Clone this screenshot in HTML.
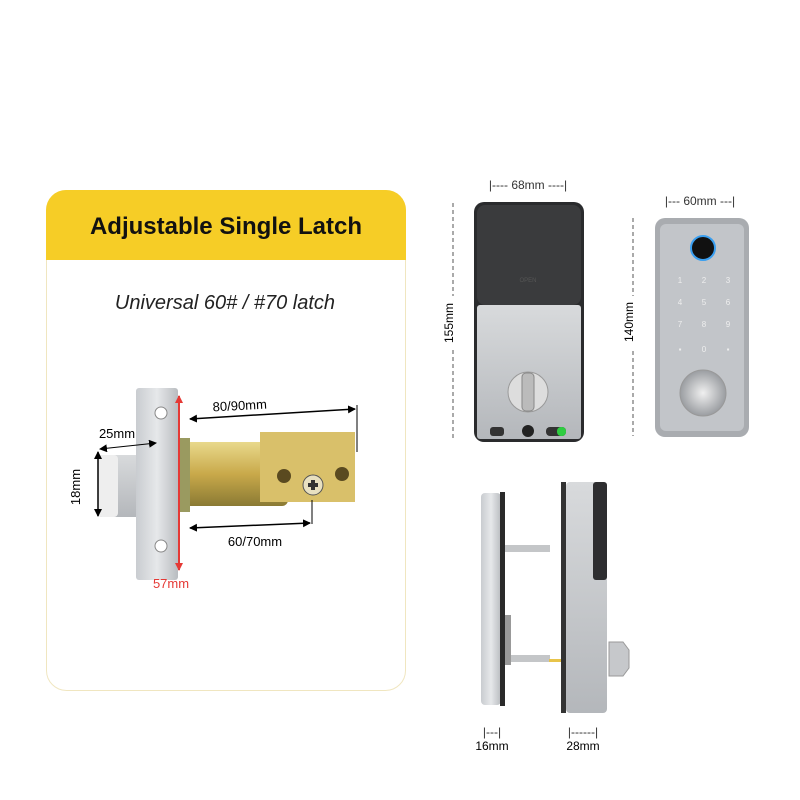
<!DOCTYPE html>
<html><head><meta charset="utf-8"><style>
body{margin:0;width:800px;height:800px;background:#fff;overflow:hidden;font-family:"Liberation Sans",sans-serif}
svg{position:absolute;left:0;top:0}
</style></head><body>
<svg width="800" height="800" viewBox="0 0 800 800" font-family="Liberation Sans, sans-serif">
<defs>
<linearGradient id="sil" x1="0" y1="0" x2="1" y2="0"><stop offset="0" stop-color="#c9ccd0"/><stop offset=".5" stop-color="#e6e8ea"/><stop offset="1" stop-color="#b9bcc0"/></linearGradient>
<linearGradient id="silv" x1="0" y1="0" x2="0" y2="1"><stop offset="0" stop-color="#d8dadc"/><stop offset="1" stop-color="#b4b7bb"/></linearGradient>
<linearGradient id="brass" x1="0" y1="0" x2="0" y2="1"><stop offset="0" stop-color="#e9d98c"/><stop offset=".5" stop-color="#c9a94a"/><stop offset="1" stop-color="#8a7a34"/></linearGradient>
<radialGradient id="knob"><stop offset="0" stop-color="#f0f0f0"/><stop offset="1" stop-color="#9a9da1"/></radialGradient>
<marker id="ar" markerWidth="8" markerHeight="8" refX="7" refY="4" orient="auto-start-reverse" markerUnits="userSpaceOnUse"><path d="M0 0L8 4L0 8z" fill="#000"/></marker>
<marker id="arr" markerWidth="8" markerHeight="8" refX="7" refY="4" orient="auto-start-reverse" markerUnits="userSpaceOnUse"><path d="M0 0L8 4L0 8z" fill="#e53935"/></marker>
</defs>
<!-- card -->
<rect x="46.5" y="190.5" width="359" height="500" rx="20" fill="#fff" stroke="#f0e6c0"/>
<path d="M66 190H386A20 20 0 0 1 406 210V260H46V210A20 20 0 0 1 66 190Z" fill="#f6cd26"/>
<text x="226" y="234" font-size="24" font-weight="bold" text-anchor="middle" fill="#111">Adjustable Single Latch</text>
<text x="225" y="309" font-size="20" font-style="italic" text-anchor="middle" fill="#222">Universal 60# / #70 latch</text>
<!-- latch -->
<rect x="178" y="442" width="110" height="64" rx="6" fill="url(#brass)"/>
<path d="M260 432H355V502H260Z" fill="#d9c06a"/>
<rect x="160" y="438" width="30" height="74" fill="#9a9a60"/>
<circle cx="284" cy="476" r="7" fill="#5a4a20"/><circle cx="313" cy="485" r="10" fill="#e8e0c0" stroke="#555"/>
<path d="M308 485h10M313 480v10" stroke="#333" stroke-width="4"/>
<circle cx="342" cy="474" r="7" fill="#5a4a20"/>
<rect x="98" y="455" width="65" height="62" rx="4" fill="url(#silv)"/>
<rect x="98" y="455" width="20" height="62" rx="4" fill="#eee"/>
<rect x="136" y="388" width="42" height="192" rx="3" fill="url(#sil)"/>
<circle cx="161" cy="413" r="6" fill="#fff" stroke="#888"/><circle cx="161" cy="546" r="6" fill="#fff" stroke="#888"/>
<line x1="179" y1="396" x2="179" y2="570" stroke="#e53935" stroke-width="2" marker-start="url(#arr)" marker-end="url(#arr)"/>
<line x1="190" y1="419" x2="355" y2="409" stroke="#000" stroke-width="1.5" marker-start="url(#ar)" marker-end="url(#ar)"/><line x1="357" y1="405" x2="357" y2="452" stroke="#000"/>
<line x1="98" y1="452" x2="98" y2="516" stroke="#000" stroke-width="1.5" marker-start="url(#ar)" marker-end="url(#ar)"/>
<line x1="100" y1="449" x2="156" y2="443" stroke="#000" marker-start="url(#ar)" marker-end="url(#ar)"/>
<line x1="190" y1="528" x2="310" y2="523" stroke="#000" stroke-width="1.5" marker-start="url(#ar)" marker-end="url(#ar)"/><line x1="312" y1="500" x2="312" y2="524" stroke="#000"/>
<text x="240" y="410" font-size="13" text-anchor="middle" transform="rotate(-3 240 410)">80/90mm</text>
<text x="117" y="438" font-size="13" text-anchor="middle">25mm</text>
<text x="80" y="487" font-size="13" text-anchor="middle" transform="rotate(-90 80 487)">18mm</text>
<text x="255" y="546" font-size="13" text-anchor="middle">60/70mm</text>
<text x="171" y="588" font-size="13" text-anchor="middle" fill="#e53935">57mm</text>
<!-- front lock -->
<text x="528" y="189" font-size="12" text-anchor="middle" fill="#333">|---- 68mm ----|</text>
<line x1="453" y1="203" x2="453" y2="440" stroke="#555" stroke-dasharray="4 3"/>
<rect x="446" y="296" width="14" height="54" fill="#fff"/>
<text x="453" y="323" font-size="12" text-anchor="middle" transform="rotate(-90 453 323)">155mm</text>
<rect x="474" y="202" width="110" height="240" rx="10" fill="#2a2b2d"/>
<rect x="477" y="205" width="104" height="100" rx="8" fill="#3a3b3d"/>
<rect x="477" y="305" width="104" height="134" rx="3" fill="url(#silv)"/>
<text x="528" y="282" font-size="6" text-anchor="middle" fill="#555">OPEN</text>
<circle cx="528" cy="392" r="20" fill="#ddd" stroke="#999"/><rect x="522" y="373" width="12" height="38" rx="4" fill="#bbb" stroke="#888"/>
<rect x="490" y="427" width="14" height="9" rx="3" fill="#333"/><circle cx="528" cy="431" r="6" fill="#222"/>
<rect x="546" y="427" width="20" height="9" rx="4" fill="#333"/><rect x="557" y="427" width="9" height="9" rx="4" fill="#2ecc40"/>
<!-- keypad -->
<text x="700" y="205" font-size="12" text-anchor="middle" fill="#333">|--- 60mm ---|</text>
<line x1="633" y1="218" x2="633" y2="436" stroke="#555" stroke-dasharray="4 3"/>
<rect x="626" y="296" width="14" height="52" fill="#fff"/>
<text x="633" y="322" font-size="12" text-anchor="middle" transform="rotate(-90 633 322)">140mm</text>
<rect x="655" y="218" width="94" height="219" rx="10" fill="#a9acb0"/>
<rect x="660" y="224" width="84" height="207" rx="6" fill="#c2c5c9"/>
<circle cx="703" cy="248" r="12" fill="#111" stroke="#3a9ff0" stroke-width="2"/>
<g font-size="8" fill="#eee" text-anchor="middle">
<text x="680" y="283">1</text><text x="704" y="283">2</text><text x="728" y="283">3</text>
<text x="680" y="305">4</text><text x="704" y="305">5</text><text x="728" y="305">6</text>
<text x="680" y="327">7</text><text x="704" y="327">8</text><text x="728" y="327">9</text>
<text x="680" y="352">▪</text><text x="704" y="352">0</text><text x="728" y="352">▪</text></g>
<circle cx="703" cy="393" r="23" fill="url(#knob)" stroke="#999"/>
<!-- side view -->
<rect x="481" y="493" width="20" height="212" rx="4" fill="url(#sil)"/>
<rect x="500" y="492" width="5" height="214" fill="#2a2a2a"/>
<rect x="505" y="545" width="45" height="7" fill="#c4c6c8"/>
<rect x="505" y="655" width="45" height="7" fill="#c4c6c8"/>
<rect x="549" y="659" width="12" height="3" fill="#e8c44a"/>
<rect x="505" y="615" width="6" height="50" fill="#999"/>
<rect x="561" y="482" width="5" height="231" fill="#333"/>
<rect x="566" y="482" width="41" height="231" rx="4" fill="url(#silv)"/>
<rect x="593" y="482" width="14" height="98" rx="3" fill="#2e2e30"/>
<path d="M609 642h14l6 8v18l-6 8h-14z" fill="#c6c8cb" stroke="#999"/>
<text x="492" y="736" font-size="12" text-anchor="middle" fill="#333">|---|</text>
<text x="492" y="750" font-size="12" text-anchor="middle">16mm</text>
<text x="583" y="736" font-size="12" text-anchor="middle" fill="#333">|------|</text>
<text x="583" y="750" font-size="12" text-anchor="middle">28mm</text>
</svg>
</body></html>
